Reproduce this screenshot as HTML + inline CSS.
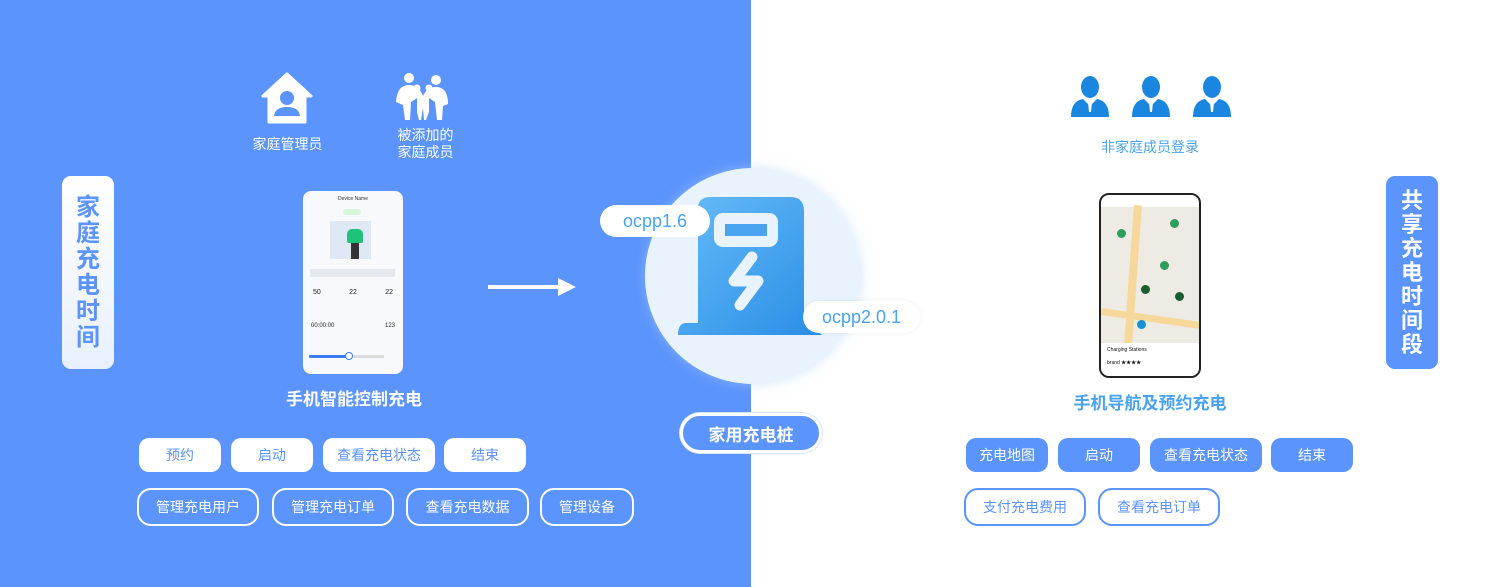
<!DOCTYPE html>
<html><head><meta charset="utf-8"><style>
*{margin:0;padding:0;box-sizing:border-box}
body{width:1500px;height:587px;position:relative;overflow:hidden;background:#fff;font-family:"Liberation Sans","Noto Sans CJK SC",sans-serif}
.a{position:absolute}
.lbg{left:0;top:0;width:751px;height:587px;background:#5b94fd}
.btn{position:absolute;height:34px;border-radius:10px;display:flex;align-items:center;justify-content:center;font-size:14px}
.wb{background:#fff;color:#5b94fd}
.ob{border:2px solid #fff;color:#fff;height:38px;border-radius:14px}
.bb{background:#5b94fd;color:#fff}
.bo{border:2px solid #5b94fd;color:#5b94fd;height:38px;border-radius:14px;background:#fff}
.vl{position:absolute;width:52px;height:193px;border-radius:9px;display:flex;flex-direction:column;align-items:center;justify-content:center;font-weight:bold}
.t{position:absolute;color:#fff;font-size:14px;text-align:center}
</style></head><body>
<div class="a lbg"></div>
<div class="vl" style="left:62px;top:176px;background:linear-gradient(#fff,#e8f0fe);color:#5b94fd;font-size:24px;line-height:26px"><span>家</span><span>庭</span><span>充</span><span>电</span><span>时</span><span>间</span></div>
<div class="vl" style="left:1386px;top:176px;background:#5b94fd;color:#fff;font-size:22px;line-height:24px"><span>共</span><span>享</span><span>充</span><span>电</span><span>时</span><span>间</span><span>段</span></div>

<svg class="a" style="left:261px;top:72px" width="52" height="52" viewBox="0 0 52 52"><path d="M26 2 L50 24 L44 24 L44 50 L8 50 L8 24 L2 24 Z" fill="#fff" stroke="#fff" stroke-linejoin="round" stroke-width="3"/><circle cx="26" cy="26" r="7" fill="#5b94fd"/><path d="M13 44 Q14 35 26 35 Q38 35 39 44 Z" fill="#5b94fd"/></svg>
<div class="t" style="left:240px;top:134px;width:95px">家庭管理员</div>
<svg class="a" style="left:393px;top:72px" width="58" height="52" viewBox="0 0 58 52"><circle cx="16" cy="6" r="5" fill="#fff"/><circle cx="43" cy="8" r="5" fill="#fff"/><circle cx="24" cy="16" r="3.5" fill="#fff"/><circle cx="36" cy="16" r="3.5" fill="#fff"/><path d="M3 30 Q4 13 16 13 Q26 13 30 24 Q34 15 43 15 Q55 15 55 32 L50 34 L49 48 L44 48 L42 30 L36 26 L36 40 L33 48 L31 48 L30 36 L28 48 L26 48 L24 40 L24 26 L18 30 L17 48 L12 48 L10 33 Z" fill="#fff"/></svg>
<div class="t" style="left:378px;top:127px;width:95px;line-height:17px">被添加的<br>家庭成员</div>

<div class="a" style="left:303px;top:191px;width:100px;height:183px;background:#f7f9fd;border-radius:8px">
 <div class="a" style="left:0;top:5px;width:100px;text-align:center;font-size:5px;color:#333">Device Name</div>
 <div class="a" style="left:40px;top:18px;width:18px;height:6px;border-radius:3px;background:#d8f5d8"></div>
 <div class="a" style="left:27px;top:30px;width:41px;height:38px;background:#dfe9f5"></div>
 <div class="a" style="left:44px;top:38px;width:16px;height:14px;background:#1ec27a;border-radius:5px 5px 2px 2px"></div>
 <div class="a" style="left:48px;top:52px;width:8px;height:16px;background:#333"></div>
 <div class="a" style="left:7px;top:78px;width:85px;height:8px;background:#e4e8ef"></div>
 <div class="a" style="left:10px;top:98px;width:80px;font-size:7px;color:#222;display:flex;justify-content:space-between"><span>50</span><span>22</span><span>22</span></div>
 <div class="a" style="left:8px;top:132px;width:84px;font-size:6px;color:#222;display:flex;justify-content:space-between"><span>00:00:00</span><span>123</span></div>
 <div class="a" style="left:6px;top:164px;width:40px;height:3px;background:#3a7cf5;border-radius:2px"></div>
 <div class="a" style="left:46px;top:164px;width:35px;height:3px;background:#ddd"></div>
 <div class="a" style="left:42px;top:161px;width:8px;height:8px;border-radius:50%;background:#fff;border:1px solid #3a7cf5"></div>
</div>
<div class="a" style="left:250px;top:385px;width:208px;text-align:center;color:#fff;font-size:17px;font-weight:bold">手机智能控制充电</div>

<div class="a" style="left:488px;top:285px;width:72px;height:4px;background:#fff"></div>
<svg class="a" style="left:558px;top:278px" width="20" height="18"><path d="M0 0 L18 9 L0 18 Z" fill="#fff"/></svg>

<div class="a" style="left:645px;top:168px;width:216px;height:216px;border-radius:50%;background:#e8f3fe;box-shadow:0 0 12px rgba(180,210,250,.5)"></div>
<svg class="a" style="left:676px;top:195px" width="150" height="143" viewBox="0 0 150 143">
<defs><linearGradient id="g" x1="0" y1="0" x2="1" y2="1"><stop offset="0" stop-color="#66bbf7"/><stop offset="1" stop-color="#2a8ee6"/></linearGradient></defs>
<path d="M22 14 Q22 2 34 2 L114 2 Q128 2 128 16 L128 125 L146 140 L2 140 Q2 128 10 128 L22 128 Z" fill="url(#g)"/>
<rect x="38" y="18" width="64" height="34" rx="9" fill="#e9f3fd"/>
<rect x="49" y="29" width="42" height="12" fill="#4aa3ee"/>
<path d="M76 62 L58 86 L82 86 L64 110" stroke="#e9f3fd" stroke-width="11" fill="none" stroke-linecap="round" stroke-linejoin="round"/>
</svg>
<div class="a" style="left:600px;top:205px;width:110px;height:32px;border-radius:16px;background:#fff;color:#4aa3ee;font-size:18px;display:flex;align-items:center;justify-content:center">ocpp1.6</div>
<div class="a" style="left:803px;top:301px;width:117px;height:32px;border-radius:16px;background:#fff;color:#4aa3ee;font-size:18px;display:flex;align-items:center;justify-content:center;box-shadow:0 0 6px rgba(0,0,0,.06)">ocpp2.0.1</div>
<div class="a" style="left:680px;top:413px;width:142px;height:40px;border-radius:20px;background:#5b94fd;border:3px solid #fff;box-shadow:0 0 0 1px #d8e6fd;color:#fff;font-size:17px;font-weight:bold;display:flex;align-items:center;justify-content:center">家用充电桩</div>

<div class="btn wb" style="left:139px;top:438px;width:82px">预约</div>
<div class="btn wb" style="left:231px;top:438px;width:82px">启动</div>
<div class="btn wb" style="left:323px;top:438px;width:112px">查看充电状态</div>
<div class="btn wb" style="left:444px;top:438px;width:82px">结束</div>
<div class="btn ob" style="left:137px;top:488px;width:122px">管理充电用户</div>
<div class="btn ob" style="left:272px;top:488px;width:122px">管理充电订单</div>
<div class="btn ob" style="left:406px;top:488px;width:123px">查看充电数据</div>
<div class="btn ob" style="left:540px;top:488px;width:94px">管理设备</div>

<svg class="a" style="left:1070px;top:76px" width="164" height="42" viewBox="0 0 164 42">
<g id="p"><ellipse cx="20" cy="11" rx="9" ry="11" fill="#1a86e0"/><path d="M1 41 Q1 25 13 23 L20 30 L27 23 Q39 25 39 41 Z" fill="#1a86e0"/><path d="M18 26 L22 26 L21 36 L19 36 Z" fill="#fff"/></g>
<use href="#p" x="61"/><use href="#p" x="122"/>
</svg>
<div class="a" style="left:1080px;top:137px;width:140px;text-align:center;color:#4aa3ee;font-size:14px">非家庭成员登录</div>

<div class="a" style="left:1099px;top:193px;width:102px;height:185px;border:2px solid #222;border-radius:10px;background:#eeeae4;overflow:hidden">
 <div class="a" style="left:0;top:0;width:100px;height:12px;background:#fff"></div>
 <div class="a" style="left:28px;top:10px;width:8px;height:140px;background:#f6d89a;transform:rotate(4deg)"></div>
 <div class="a" style="left:0;top:120px;width:100px;height:7px;background:#f6d89a;transform:rotate(8deg)"></div>
 <div class="a" style="left:16px;top:34px;width:9px;height:9px;border-radius:50%;background:#2e9e5e"></div>
 <div class="a" style="left:69px;top:24px;width:9px;height:9px;border-radius:50%;background:#2e9e5e"></div>
 <div class="a" style="left:59px;top:66px;width:9px;height:9px;border-radius:50%;background:#2e9e5e"></div>
 <div class="a" style="left:40px;top:90px;width:9px;height:9px;border-radius:50%;background:#1a5e2e"></div>
 <div class="a" style="left:74px;top:97px;width:9px;height:9px;border-radius:50%;background:#1a5e2e"></div>
 <div class="a" style="left:36px;top:125px;width:9px;height:9px;border-radius:50%;background:#1890d0"></div>
 <div class="a" style="left:0;top:148px;width:100px;height:37px;background:#fff;font-size:5px;color:#111;padding:4px 6px">Charging Stations<br><br>brand ★★★★</div>
</div>
<div class="a" style="left:1050px;top:389px;width:200px;text-align:center;color:#4aa3ee;font-size:17px;font-weight:bold">手机导航及预约充电</div>

<div class="btn bb" style="left:966px;top:438px;width:82px">充电地图</div>
<div class="btn bb" style="left:1058px;top:438px;width:82px">启动</div>
<div class="btn bb" style="left:1150px;top:438px;width:112px">查看充电状态</div>
<div class="btn bb" style="left:1271px;top:438px;width:82px">结束</div>
<div class="btn bo" style="left:964px;top:488px;width:122px">支付充电费用</div>
<div class="btn bo" style="left:1098px;top:488px;width:122px">查看充电订单</div>
</body></html>
